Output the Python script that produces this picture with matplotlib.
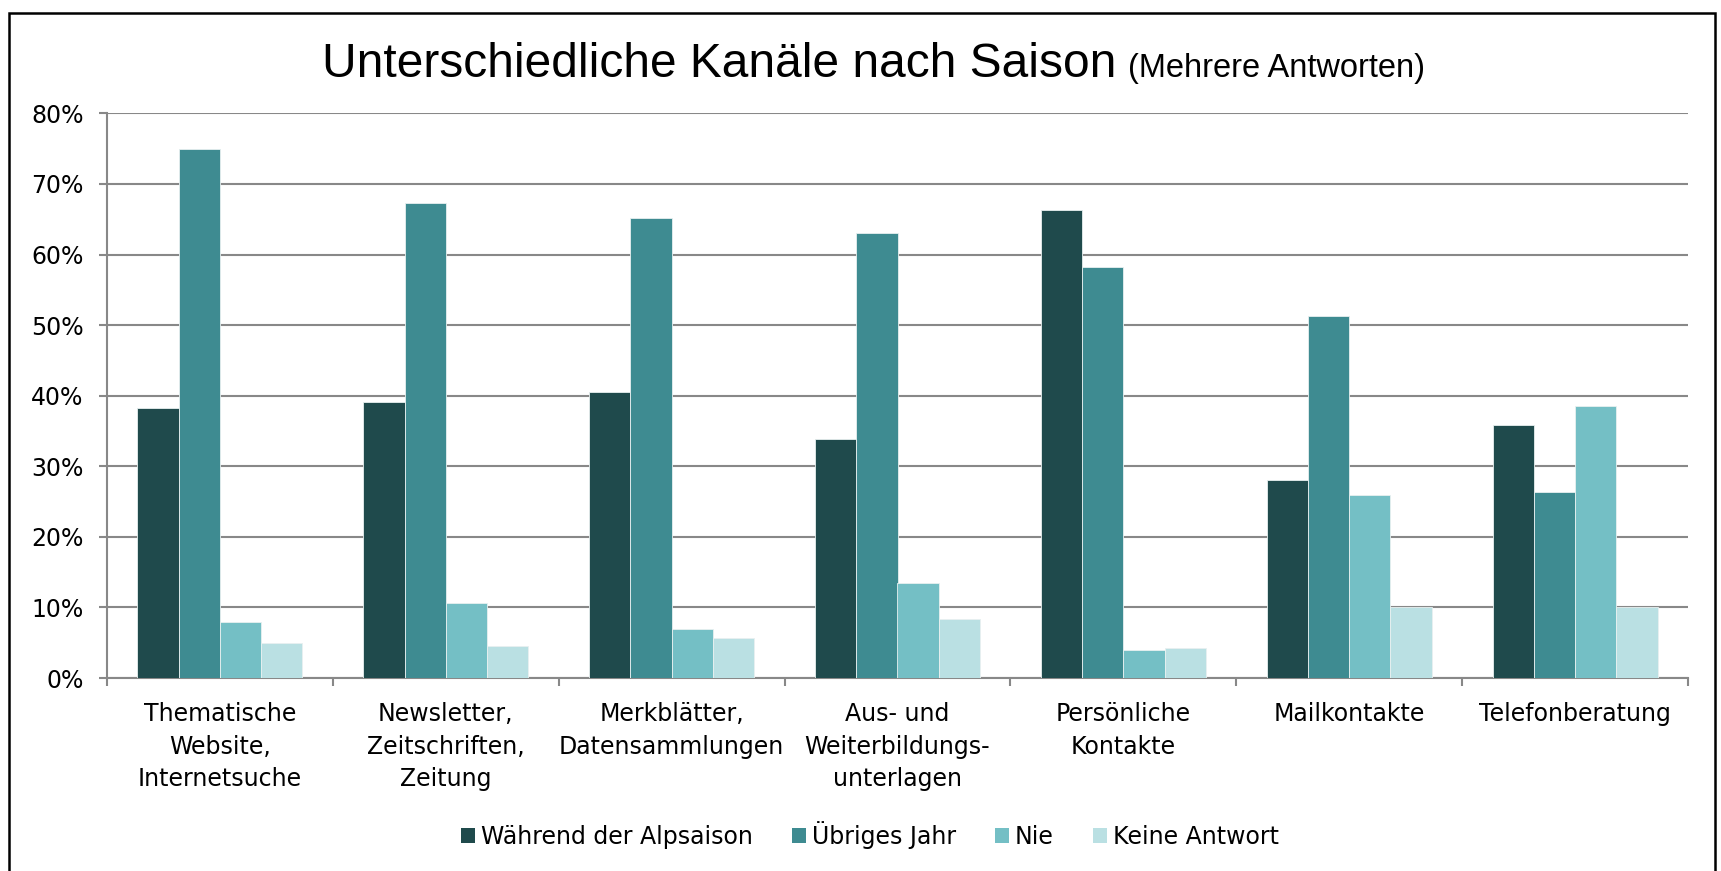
import numpy as np
import matplotlib
matplotlib.use("Agg")
import matplotlib.pyplot as plt
from matplotlib.patches import Patch, Rectangle
from matplotlib.ticker import FixedLocator, PercentFormatter

# Daten (in %)
kategorien = ['Thematische\nWebsite,\nInternetsuche',
              'Newsletter,\nZeitschriften,\nZeitung',
              'Merkblätter,\nDatensammlungen',
              'Aus- und\nWeiterbildungs-\nunterlagen',
              'Persönliche\nKontakte',
              'Mailkontakte',
              'Telefonberatung']
serien = ['Während der Alpsaison', 'Übriges Jahr', 'Nie', 'Keine Antwort']
alpsaison = [38.2, 39.1, 40.5, 33.9, 66.3, 28.1, 35.9]
uebriges_jahr = [75.0, 67.3, 65.2, 63.1, 58.2, 51.3, 26.3]
nie = [8.0, 10.6, 6.9, 13.5, 4.0, 26.0, 38.5]
keine_antwort = [4.9, 4.6, 5.7, 8.3, 4.3, 10.0, 10.0]
farben = ['#1f4a4c', '#3e8b91', '#74bfc5', '#bae0e3']

werte = [alpsaison, uebriges_jahr, nie, keine_antwort]

W, H = 1721, 871
fig = plt.figure(figsize=(W / 100, H / 100), dpi=100)
ax = fig.add_axes([107 / W, 1 - 678 / H, (1688 - 107) / W, (678 - 113.4) / H])

x = np.arange(len(kategorien))
bw = 0.1826
for i, (vals, name, col) in enumerate(zip(werte, serien, farben)):
    ax.bar(x + (i - 1.5) * bw, vals, width=bw, color=col, label=name,
           edgecolor='#e8f0f0', linewidth=0.6, zorder=3)

ax.set_xlim(-0.5, len(kategorien) - 0.5)
ax.set_ylim(0, 80)
ax.yaxis.set_major_locator(FixedLocator(np.arange(0, 81, 10)))
ax.yaxis.set_major_formatter(PercentFormatter(decimals=0))
ax.grid(axis='y', color='#888888', linewidth=1.5, zorder=0)

ax.set_xticks(x)
ax.set_xticklabels(kategorien, fontsize=17, linespacing=1.47)
ax.set_xticks(np.arange(-0.5, len(kategorien), 1), minor=True)
ax.tick_params(axis='x', which='major', length=0, pad=17)
ax.tick_params(axis='x', which='minor', length=6, width=1.5, color='#888888', direction='out')
ax.tick_params(axis='y', length=6, width=1.5, color='#888888', labelsize=17, pad=11)

for s in ['top', 'right']:
    ax.spines[s].set_visible(False)
for s in ['left', 'bottom']:
    ax.spines[s].set_color('#888888')
    ax.spines[s].set_linewidth(1.5)

# Titel in zwei Teilen
renderer = fig.canvas.get_renderer()
t1 = fig.text(322 / W, 1 - 77 / H, 'Unterschiedliche Kanäle nach Saison',
              fontsize=34.5, family='Liberation Sans', ha='left', va='baseline')
bb = t1.get_window_extent(renderer)
fig.text((bb.x1 + 12) / W, 1 - 77 / H, '(Mehrere Antworten)',
         fontsize=23.5, family='Liberation Sans', ha='left', va='baseline')

handles = [Patch(facecolor=c, edgecolor='none') for c in farben]
fig.legend(handles, serien, loc='center', bbox_to_anchor=(870 / W, 1 - 835 / H),
           ncol=4, frameon=False, fontsize=17, handlelength=0.6, handleheight=0.6,
           handletextpad=0.25, columnspacing=1.65)

# Rahmen um die ganze Grafik
fig.patches.append(Rectangle((9 / W, -0.05), (1715 - 9) / W, 1.05 - 13 / H,
                             transform=fig.transFigure, fill=False,
                             edgecolor='black', linewidth=1.8))

fig.savefig('out.png', dpi=100)
